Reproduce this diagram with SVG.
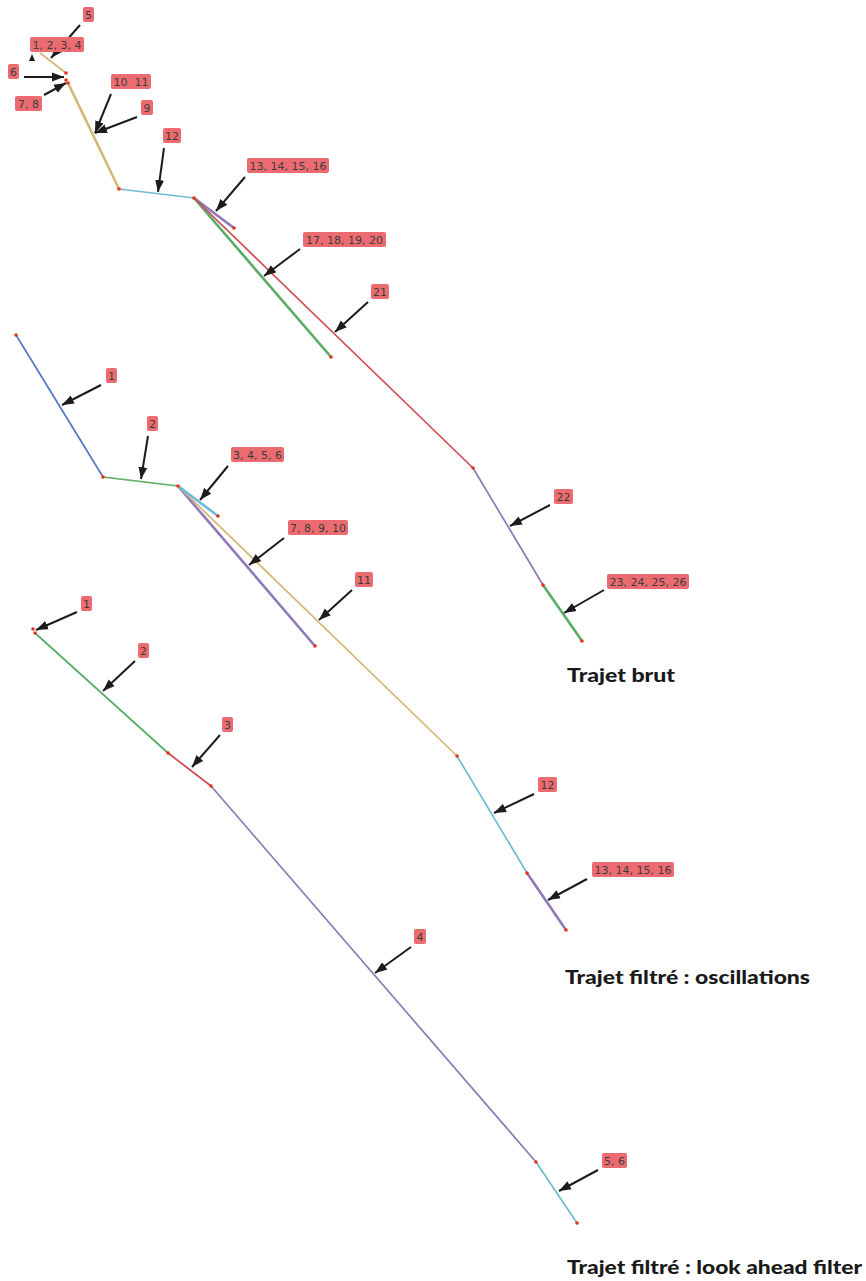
<svg xmlns="http://www.w3.org/2000/svg" width="866" height="1281" viewBox="0 0 866 1281">
<style>
.tan{stroke:#d6b677;fill:none}
.blu{stroke:#4f78c4;fill:none}
.grn{stroke:#5aab66;fill:none}
.lb{stroke:#6dbcd6;fill:none}
.red{stroke:#cf4a52;fill:none}
.pur{stroke:#8f79b8;fill:none}
.w1{stroke-width:1.7}
.w2{stroke-width:2.6}
.dot{fill:#e8321e}
.arr{stroke:#1c1c1c;stroke-width:2;fill:none;marker-end:url(#ah)}
.lab rect{fill:#ec6b70}
.lab text{font-family:"DejaVu Sans",sans-serif;font-size:11px;fill:#3c3c3c;text-anchor:middle}
.title{font-family:Lato,"Open Sans",sans-serif;font-weight:900;font-size:19px;fill:#1a1a1a}
</style>
<defs>
<marker id="ah" markerUnits="userSpaceOnUse" markerWidth="13" markerHeight="10" refX="12" refY="5" orient="auto">
<path d="M0,0.5 L12,5 L0,9.5 z" fill="#1c1c1c"/>
</marker>
</defs>

<g id="paths">
<g id="trajet-brut">
<path class="tan w1" d="M40,53 L66,73"/>
<path class="tan w2" d="M68,83 L119,189"/>
<path class="lb w1" d="M119,189 L194,198"/>
<path class="pur w2" d="M194,198 L234,228"/>
<path class="grn w2" d="M194,198 L331,357"/>
<path class="red w1" d="M194,198 L473,468"/>
<path class="pur w1" d="M473,468 L543,585"/>
<path class="grn w2" d="M543,585 L582,641"/>
<circle class="dot" cx="66" cy="73" r="1.8"/>
<circle class="dot" cx="66" cy="80" r="1.8"/>
<circle class="dot" cx="68" cy="83" r="1.8"/>
<circle class="dot" cx="119" cy="189" r="1.8"/>
<circle class="dot" cx="194" cy="198" r="1.8"/>
<circle class="dot" cx="234" cy="228" r="1.8"/>
<circle class="dot" cx="331" cy="357" r="1.8"/>
<circle class="dot" cx="473" cy="468" r="1.8"/>
<circle class="dot" cx="543" cy="585" r="1.8"/>
<circle class="dot" cx="582" cy="641" r="1.8"/>
</g>
<g id="trajet-oscillations">
<path class="blu w1" d="M16,335 L103,477"/>
<path class="grn w1" d="M103,477 L178,486"/>
<path class="pur w2" d="M178,486 L315,646"/>
<path class="tan w1" d="M178,486 L457,756"/>
<path class="lb w2" d="M178,486 L218,516"/>
<path class="lb w1" d="M457,756 L527,873"/>
<path class="pur w2" d="M527,873 L566,930"/>
<circle class="dot" cx="16" cy="335" r="1.8"/>
<circle class="dot" cx="103" cy="477" r="1.8"/>
<circle class="dot" cx="178" cy="486" r="1.8"/>
<circle class="dot" cx="218" cy="516" r="1.8"/>
<circle class="dot" cx="315" cy="646" r="1.8"/>
<circle class="dot" cx="457" cy="756" r="1.8"/>
<circle class="dot" cx="527" cy="873" r="1.8"/>
<circle class="dot" cx="566" cy="930" r="1.8"/>
</g>
<g id="trajet-lookahead">
<path class="grn w1" d="M35,633 L168,753"/>
<path class="red w1" d="M168,753 L211,786"/>
<path class="pur w1" d="M211,786 L536,1162"/>
<path class="lb w1" d="M536,1162 L577,1223"/>
<circle class="dot" cx="33" cy="629" r="1.8"/>
<circle class="dot" cx="35" cy="633" r="1.8"/>
<circle class="dot" cx="168" cy="753" r="1.8"/>
<circle class="dot" cx="211" cy="786" r="1.8"/>
<circle class="dot" cx="536" cy="1162" r="1.8"/>
<circle class="dot" cx="577" cy="1223" r="1.8"/>
</g>
</g>

<g id="connectors">
<path class="arr" d="M80,25 L51,58"/>
<path d="M29,61 L35,61 L32,54 z" fill="#1c1c1c"/>
<path class="arr" d="M24,77 L64,77"/>
<path class="arr" d="M44,95 L66,83"/>
<path class="arr" d="M111,94 L95,133"/>
<path class="arr" d="M137,117 L95,133"/>
<path class="arr" d="M164,148 L158,192"/>
<path class="arr" d="M245,177 L216,211"/>
<path class="arr" d="M300,249 L264,276"/>
<path class="arr" d="M368,302 L335,332"/>
<path class="arr" d="M550,505 L510,526"/>
<path class="arr" d="M604,590 L564,613"/>

<path class="arr" d="M101,385 L62,405"/>
<path class="arr" d="M148,436 L141,479"/>
<path class="arr" d="M228,466 L200,500"/>
<path class="arr" d="M284,538 L249,565"/>
<path class="arr" d="M352,590 L319,620"/>
<path class="arr" d="M534,794 L494,813"/>
<path class="arr" d="M587,879 L548,900"/>

<path class="arr" d="M77,612 L36,630"/>
<path class="arr" d="M135,661 L103,691"/>
<path class="arr" d="M220,735 L192,767"/>
<path class="arr" d="M411,947 L375,973"/>
<path class="arr" d="M598,1170 L559,1191"/>
</g>

<g id="labels">
<g id="l-5" class="lab"><rect x="83" y="7" width="11" height="15" rx="2"/><text x="88.5" y="18.5">5</text></g>
<g id="l-1234" class="lab"><rect x="30" y="37" width="54" height="15" rx="2"/><text x="57" y="48.5">1, 2, 3, 4</text></g>
<g id="l-6" class="lab"><rect x="8" y="64" width="11" height="15" rx="2"/><text x="13.5" y="75.5">6</text></g>
<g id="l-78" class="lab"><rect x="15" y="96" width="27" height="15" rx="2"/><text x="28.5" y="107.5">7, 8</text></g>
<g id="l-1011" class="lab"><rect x="111" y="74" width="40" height="15" rx="2"/><text x="131" y="85.5" xml:space="preserve">10  11</text></g>
<g id="l-9" class="lab"><rect x="141" y="100" width="12" height="15" rx="2"/><text x="147" y="111.5">9</text></g>
<g id="l-12a" class="lab"><rect x="163" y="128" width="18" height="15" rx="2"/><text x="172" y="139.5">12</text></g>
<g id="l-13a" class="lab"><rect x="247" y="158" width="82" height="15" rx="2"/><text x="288" y="169.5">13, 14, 15, 16</text></g>
<g id="l-17" class="lab"><rect x="303" y="232" width="83" height="15" rx="2"/><text x="344.5" y="243.5">17, 18, 19, 20</text></g>
<g id="l-21" class="lab"><rect x="371" y="284" width="18" height="15" rx="2"/><text x="380" y="295.5">21</text></g>
<g id="l-22" class="lab"><rect x="554" y="489" width="19" height="15" rx="2"/><text x="563.5" y="500.5">22</text></g>
<g id="l-23" class="lab"><rect x="607" y="574" width="82" height="15" rx="2"/><text x="648" y="585.5">23, 24, 25, 26</text></g>

<g id="l-o1" class="lab"><rect x="106" y="368" width="11" height="15" rx="2"/><text x="111.5" y="379.5">1</text></g>
<g id="l-o2" class="lab"><rect x="147" y="416" width="11" height="15" rx="2"/><text x="152.5" y="427.5">2</text></g>
<g id="l-o3" class="lab"><rect x="231" y="447" width="53" height="15" rx="2"/><text x="257.5" y="458.5">3, 4, 5, 6</text></g>
<g id="l-o7" class="lab"><rect x="288" y="520" width="60" height="15" rx="2"/><text x="318" y="531.5">7, 8, 9, 10</text></g>
<g id="l-o11" class="lab"><rect x="355" y="572" width="18" height="15" rx="2"/><text x="364" y="583.5">11</text></g>
<g id="l-o12" class="lab"><rect x="538" y="777" width="19" height="15" rx="2"/><text x="547.5" y="788.5">12</text></g>
<g id="l-o13" class="lab"><rect x="592" y="862" width="82" height="15" rx="2"/><text x="633" y="873.5">13, 14, 15, 16</text></g>

<g id="l-f1" class="lab"><rect x="81" y="596" width="11" height="15" rx="2"/><text x="86.5" y="607.5">1</text></g>
<g id="l-f2" class="lab"><rect x="138" y="643" width="11" height="15" rx="2"/><text x="143.5" y="654.5">2</text></g>
<g id="l-f3" class="lab"><rect x="222" y="717" width="11" height="15" rx="2"/><text x="227.5" y="728.5">3</text></g>
<g id="l-f4" class="lab"><rect x="414" y="929" width="12" height="15" rx="2"/><text x="420" y="940.5">4</text></g>
<g id="l-f56" class="lab"><rect x="602" y="1153" width="25" height="15" rx="2"/><text x="614.5" y="1164.5">5, 6</text></g>
</g>

<g id="titles">
<text class="title" x="567" y="682" textLength="108" lengthAdjust="spacingAndGlyphs">Trajet brut</text>
<text class="title" x="565" y="984" textLength="245" lengthAdjust="spacingAndGlyphs">Trajet filtré : oscillations</text>
<text class="title" x="567" y="1274" textLength="295" lengthAdjust="spacingAndGlyphs">Trajet filtré : look ahead filter</text>
</g>
</svg>
